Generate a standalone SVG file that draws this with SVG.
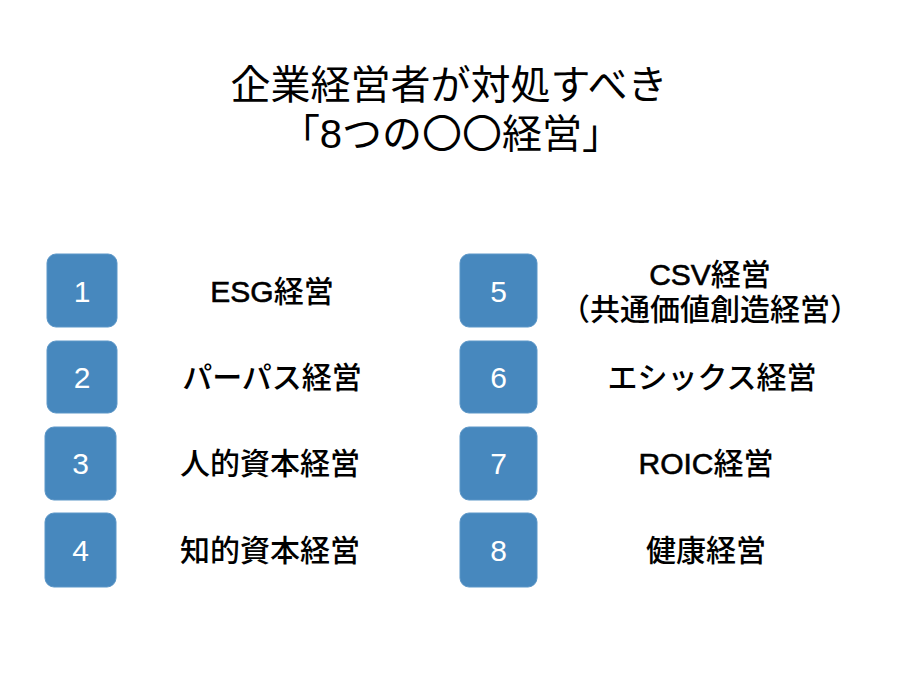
<svg xmlns="http://www.w3.org/2000/svg" width="900" height="678" viewBox="0 0 900 678">
<style>
.bg{fill:#ffffff}
.box{fill:#4788be;stroke:#5d97c8;stroke-width:1}
.num{font-family:"Liberation Sans","Noto Sans CJK JP",sans-serif;font-size:30px;fill:#ffffff;text-anchor:middle}
.lbl{font-family:"Liberation Sans","Noto Sans CJK JP",sans-serif;font-size:30px;font-weight:500;fill:#000000;text-anchor:middle}
.lat{stroke:#000000;stroke-width:0.6}
.title{font-family:"Liberation Sans","Noto Sans CJK JP",sans-serif;font-size:40px;fill:#000000;text-anchor:middle}
</style>
<rect class="bg" x="0" y="0" width="900" height="678"/>
<g id="title">
<text class="title" x="449" y="99">企業経営者が対処すべき</text>
<text class="title" x="451" y="148">「8つの〇〇経営」</text>
</g>
<g id="connectors"></g>
<g id="item1">
<rect class="box" x="47" y="254" width="70" height="73" rx="9"/>
<text class="num" x="82" y="302">1</text>
<text class="lbl" x="272" y="302"><tspan class="lat">ESG</tspan>経営</text>
</g>
<g id="item2">
<rect class="box" x="47" y="341" width="70" height="72" rx="9"/>
<text class="num" x="82" y="388">2</text>
<text class="lbl" x="272" y="388">パーパス経営</text>
</g>
<g id="item3">
<rect class="box" x="45" y="427" width="71" height="73" rx="9"/>
<text class="num" x="80.5" y="474">3</text>
<text class="lbl" x="270" y="474">人的資本経営</text>
</g>
<g id="item4">
<rect class="box" x="45" y="513" width="71" height="74" rx="9"/>
<text class="num" x="80.5" y="561">4</text>
<text class="lbl" x="270" y="561">知的資本経営</text>
</g>
<g id="item5">
<rect class="box" x="460" y="254" width="77" height="73" rx="9"/>
<text class="num" x="498.5" y="302">5</text>
<text class="lbl" x="710" y="285"><tspan class="lat">CSV</tspan>経営</text>
<text class="lbl" x="710" y="320">（共通価値創造経営）</text>
</g>
<g id="item6">
<rect class="box" x="460" y="341" width="77" height="72" rx="9"/>
<text class="num" x="498.5" y="388">6</text>
<text class="lbl" x="712" y="388">エシックス経営</text>
</g>
<g id="item7">
<rect class="box" x="460" y="427" width="77" height="73" rx="9"/>
<text class="num" x="498.5" y="474">7</text>
<text class="lbl" x="706" y="474"><tspan class="lat">ROIC</tspan>経営</text>
</g>
<g id="item8">
<rect class="box" x="460" y="513" width="77" height="74" rx="9"/>
<text class="num" x="498.5" y="561">8</text>
<text class="lbl" x="706" y="561">健康経営</text>
</g>
</svg>
